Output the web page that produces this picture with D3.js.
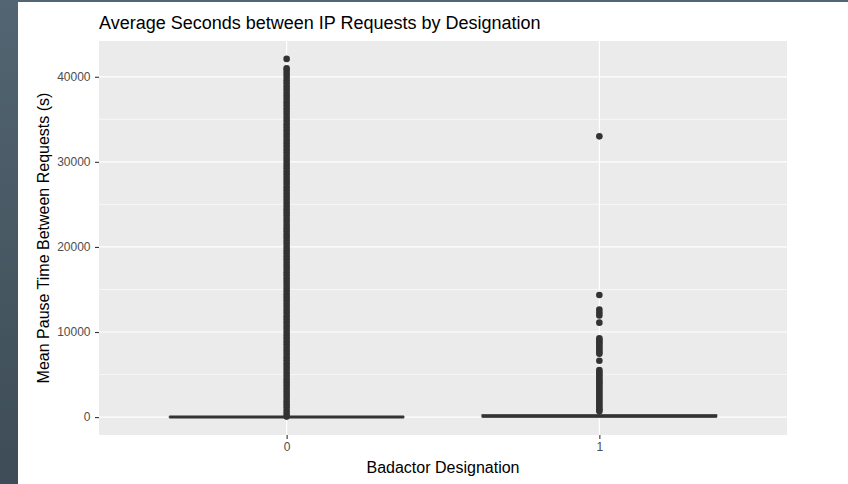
<html>
<head>
<style>
  body { margin: 0; background: #fff; }
  svg { display: block; font-family: "Liberation Sans", Arial, sans-serif; }
</style>
</head>
<body>
<svg id="chart" width="848" height="484"></svg>
<script src="https://cdn.jsdelivr.net/npm/d3@7"></script>
<script>
// categories and box statistics (seconds)
const groups = ["0", "1"];
const q1 = [1, 40];
const medians = [5, 110];
const q3 = [15, 260];
const whiskerLow = [0, 0];
const whiskerHigh = [35, 600];

// outliers
const outliers0 = [60, 380, 750, 1120, 1490, 1850, 2230, 2600, 2960, 3340, 3710, 4080, 4450, 4820, 5190, 5560, 5930, 6300, 6670, 7040, 7410, 7780, 8150, 8520, 8890, 9260, 9630, 10000,
  10370, 10740, 11110, 11480, 11850, 12220, 12590, 12960, 13330, 13700, 14070, 14440, 14810, 15180, 15550, 15920, 16290, 16660, 17030, 17400, 17770, 18140, 18510, 18880, 19250, 19620, 19990,
  20360, 20730, 21100, 21470, 21840, 22210, 22580, 22950, 23320, 23690, 24060, 24430, 24800, 25170, 25540, 25910, 26280, 26650, 27020, 27390, 27760, 28130, 28500, 28870, 29240, 29610, 29980,
  30350, 30720, 31090, 31460, 31830, 32200, 32570, 32940, 33310, 33680, 34050, 34420, 34790, 35160, 35530, 35900, 36270, 36640, 37010, 37380, 37750, 38120, 38490, 38860, 39230, 39600, 39970, 40340, 40710, 41000, 42100];
const outliers1 = [33000, 14350, 12650, 12300, 11950, 11100, 9250, 9050, 8850, 8650, 8400, 8150, 7900, 7650, 7450, 6620,
  5530, 5300, 5050, 4820, 4550, 4300, 4100, 3850, 3600, 3350, 3100, 2850, 2600, 2350, 2100, 1850, 1600, 1350, 1100, 900, 700];

const yTicks = [0, 10000, 20000, 30000, 40000];
const yMinor = [5000, 15000, 25000, 35000];

const svg = d3.select("#chart");

// slide backdrop
const grad = svg.append("defs").append("linearGradient").attr("id", "slate")
  .attr("x1", 0).attr("y1", 0).attr("x2", 0).attr("y2", 1);
grad.append("stop").attr("offset", "0%").attr("stop-color", "#536572");
grad.append("stop").attr("offset", "100%").attr("stop-color", "#3d4c56");
svg.append("rect").attr("width", 848).attr("height", 484).attr("fill", "url(#slate)");
svg.append("rect").attr("x", 18).attr("y", 2).attr("width", 830).attr("height", 482).attr("fill", "#fff");

const panel = {left: 99, top: 41, right: 787, bottom: 435};

const x = d3.scalePoint().domain(groups).range([panel.left, panel.right]).padding(0.6);
const boxW = x.step() * 0.75;

const allVals = outliers0.concat(outliers1, whiskerLow);
const lo = d3.min(allVals), hi = d3.max(allVals);
const pad = (hi - lo) * 0.05;
const y = d3.scaleLinear().domain([lo - pad, hi + pad]).range([panel.bottom, panel.top]);

// panel + grid
svg.append("rect").attr("x", panel.left).attr("y", panel.top)
  .attr("width", panel.right - panel.left).attr("height", panel.bottom - panel.top)
  .attr("fill", "#ebebeb");

const grid = svg.append("g");
grid.selectAll(".minor").data(yMinor).join("line")
  .attr("x1", panel.left).attr("x2", panel.right)
  .attr("y1", d => y(d)).attr("y2", d => y(d))
  .attr("stroke", "#fff").attr("stroke-width", 0.6);
grid.selectAll(".major").data(yTicks).join("line")
  .attr("x1", panel.left).attr("x2", panel.right)
  .attr("y1", d => y(d)).attr("y2", d => y(d))
  .attr("stroke", "#fff").attr("stroke-width", 1.2);
grid.selectAll(".vmajor").data(groups).join("line")
  .attr("y1", panel.top).attr("y2", panel.bottom)
  .attr("x1", d => x(d)).attr("x2", d => x(d))
  .attr("stroke", "#fff").attr("stroke-width", 1.2);

// boxes
const ink = "#333333";
const boxes = svg.append("g");
groups.forEach((g, i) => {
  const cx = x(g);
  const b = boxes.append("g");
  b.append("line").attr("x1", cx).attr("x2", cx)
    .attr("y1", y(q3[i])).attr("y2", y(whiskerHigh[i])).attr("stroke", ink).attr("stroke-width", 1.2);
  b.append("line").attr("x1", cx).attr("x2", cx)
    .attr("y1", y(q1[i])).attr("y2", y(whiskerLow[i])).attr("stroke", ink).attr("stroke-width", 1.2);
  b.append("rect").attr("x", cx - boxW / 2).attr("width", boxW)
    .attr("y", y(q3[i])).attr("height", Math.max(0.1, y(q1[i]) - y(q3[i])))
    .attr("fill", "#fff").attr("stroke", ink).attr("stroke-width", 1.3);
  b.append("line").attr("x1", cx - boxW / 2).attr("x2", cx + boxW / 2)
    .attr("y1", y(medians[i])).attr("y2", y(medians[i]))
    .attr("stroke", ink).attr("stroke-width", 3);
  const outs = i === 0 ? outliers0 : outliers1;
  b.selectAll("circle").data(outs).join("circle")
    .attr("cx", cx).attr("cy", d => y(d)).attr("r", 3.3).attr("fill", ink);
});

// axes
const yAxis = d3.axisLeft(y).tickValues(yTicks).tickSize(4).tickPadding(4.5).tickFormat(d3.format("d"));
const yg = svg.append("g").attr("transform", `translate(${panel.left},0)`).call(yAxis);
const xAxis = d3.axisBottom(x).tickSize(4).tickPadding(3.5);
const xg = svg.append("g").attr("transform", `translate(0,${panel.bottom})`).call(xAxis);
[yg, xg].forEach(a => {
  a.select(".domain").remove();
  a.selectAll(".tick line").attr("stroke", ink).attr("stroke-width", 1.1);
  a.selectAll(".tick text").attr("fill", "#4d4d4d").style("font-size", "12px")
    .style("font-family", "'Liberation Sans', Arial, sans-serif");
});

// titles
svg.append("text").attr("x", panel.left).attr("y", 29)
  .style("font-size", "18px").attr("fill", "#000")
  .text("Average Seconds between IP Requests by Designation");
svg.append("text").attr("x", (panel.left + panel.right) / 2).attr("y", 473)
  .attr("text-anchor", "middle").style("font-size", "16px").attr("fill", "#000")
  .text("Badactor Designation");
svg.append("text")
  .attr("transform", `translate(49,${(panel.top + panel.bottom) / 2}) rotate(-90)`)
  .attr("text-anchor", "middle").style("font-size", "16px").attr("fill", "#000")
  .text("Mean Pause Time Between Requests (s)");
</script>
</body>
</html>
